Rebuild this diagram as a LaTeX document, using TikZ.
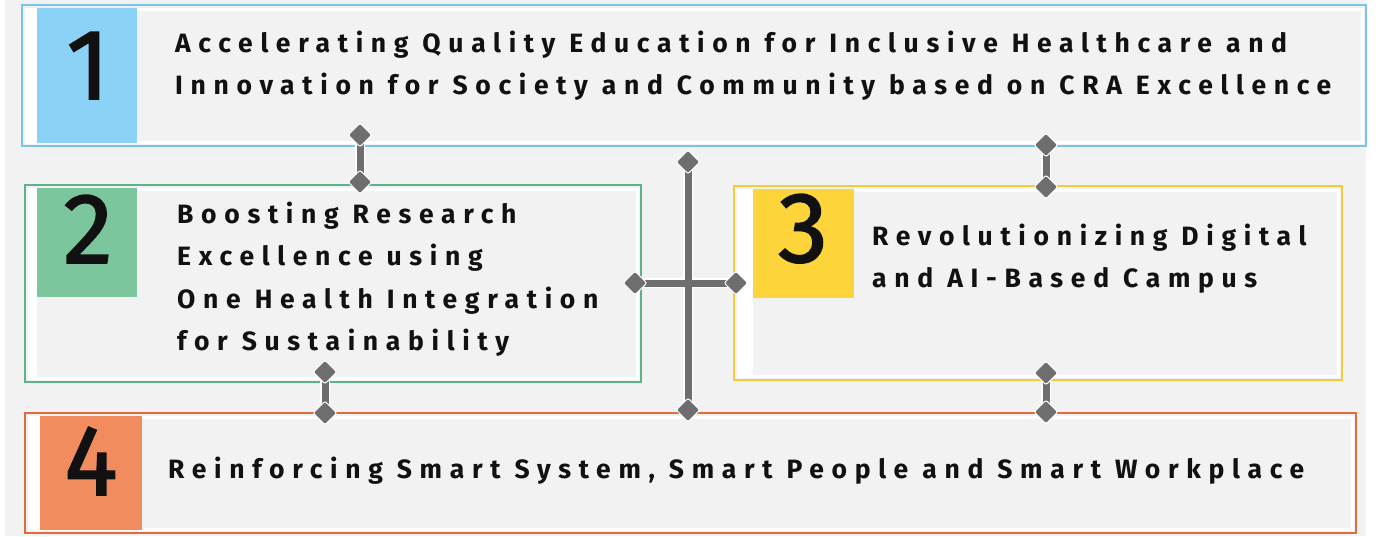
\documentclass[tikz,border=0pt]{standalone}
\usepackage{fontspec}
\setmainfont{Fira Sans}[LetterSpace=29]
\newfontfamily\numfont{Fira Sans}[FakeBold=1.6]
\usetikzlibrary{shapes.geometric}
\definecolor{bg}{HTML}{F2F2F2}
\definecolor{bluebd}{HTML}{79C5E8}
\definecolor{bluesq}{HTML}{8AD3F7}
\definecolor{greenbd}{HTML}{5DB389}
\definecolor{greensq}{HTML}{7CC69E}
\definecolor{yellowbd}{HTML}{F5CB37}
\definecolor{yellowsq}{HTML}{FDD43A}
\definecolor{orangebd}{HTML}{E06B3C}
\definecolor{orangesq}{HTML}{F08C5E}
\definecolor{conn}{HTML}{6E6E6E}
\definecolor{ink}{HTML}{111111}
\tikzset{
  frame/.style={draw, line width=2.5pt, fill=bg, inner sep=0pt, outer sep=0pt, rectangle},
  num/.style={font=\numfont\fontsize{100}{100}\selectfont, text=ink, inner sep=0pt, anchor=base},
  txt/.style={font=\bfseries\fontsize{26.5}{30}\selectfont, text=ink, inner sep=0pt, anchor=base west},
  dia/.style={diamond, fill=conn, draw=white, line width=1pt, minimum width=24pt, minimum height=24pt, inner sep=0pt, rounded corners=2pt},
  link/.style={draw=conn, line width=7pt},
  halo/.style={draw=white, line width=10pt},
}
\begin{document}
\begin{tikzpicture}[x=1pt,y=-1pt]
\useasboundingbox (0,0) rectangle (1381,536);
\fill[white] (0,0) rectangle (1381,536);
\fill[bg] (5,0) rectangle (1366,536);

% Box 1
\node[frame, draw=bluebd, minimum width=1344pt, minimum height=141pt] (b1) at (694,75.5) {};
\draw[white, line width=3pt] (26,9) rectangle (1362,142);
\fill[white] (25,8) rectangle (37,143);
\fill[bluesq] (37,8) rectangle (137,143);
\node[num] (n1) at (88,99) {1};

% Box 2
\node[frame, draw=greenbd, minimum width=616pt, minimum height=197pt] (b2) at (333,283.5) {};
\draw[white, line width=3pt] (29,189) rectangle (637,378);
\fill[white] (28,188) rectangle (37,379);
\fill[greensq] (37,188) rectangle (137,297);
\node[num] (n2) at (88,263) {2};

% Box 3
\node[frame, draw=yellowbd, minimum width=608pt, minimum height=194pt] (b3) at (1038,283) {};
\draw[white, line width=3pt] (738,190) rectangle (1338,376);
\fill[white] (737,189) rectangle (753,377);
\fill[yellowsq] (753,189) rectangle (854,298);
\node[num] (n3) at (803,262) {3};

% Box 4
\node[frame, draw=orangebd, minimum width=1331pt, minimum height=120pt] (b4) at (690.5,473) {};
\draw[white, line width=3pt] (29,417) rectangle (1352,529);
\fill[white] (28,416) rectangle (40,530);
\fill[orangesq] (40,416) rectangle (142,530);
\node[num] (n4) at (91,495) {4};

% Texts
\node[txt] (t1a) at (175,52) {Accelerating Quality Education for Inclusive Healthcare and};
\node[txt] (t1b) at (175,94) {Innovation for Society and Community based on CRA Excellence};
\node[txt] (t2a) at (177,223) {Boosting Research};
\node[txt] (t2b) at (177,265) {Excellence using};
\node[txt] (t2c) at (177,308) {One Health Integration};
\node[txt] (t2d) at (177,350) {for Sustainability};
\node[txt] (t3a) at (872,245) {Revolutionizing Digital};
\node[txt] (t3b) at (872,287) {and AI-Based Campus};
\node[txt] (t4a) at (168,478) {Reinforcing Smart System, Smart People and Smart Workplace};

% Connector end points
\coordinate (p12a) at (360,135);
\coordinate (p12b) at (360,182);
\coordinate (p13a) at (1046,145);
\coordinate (p13b) at (1046,187);
\coordinate (pva) at (688,162);
\coordinate (pvb) at (688,410);
\coordinate (pha) at (635,283);
\coordinate (phb) at (736,283);
\coordinate (p24a) at (325,372);
\coordinate (p24b) at (325,413);
\coordinate (p34a) at (1046,373);
\coordinate (p34b) at (1046,412);

\foreach \a/\b in {p12a/p12b,p13a/p13b,pva/pvb,pha/phb,p24a/p24b,p34a/p34b}{
  \draw[halo] (\a) -- (\b);
}
\foreach \a/\b in {p12a/p12b,p13a/p13b,pva/pvb,pha/phb,p24a/p24b,p34a/p34b}{
  \draw[link] (\a) -- (\b);
}
\foreach \p in {p12a,p12b,p13a,p13b,pva,pvb,pha,phb,p24a,p24b,p34a,p34b}{
  \node[dia] (d\p) at (\p) {};
}
\end{tikzpicture}
\end{document}
